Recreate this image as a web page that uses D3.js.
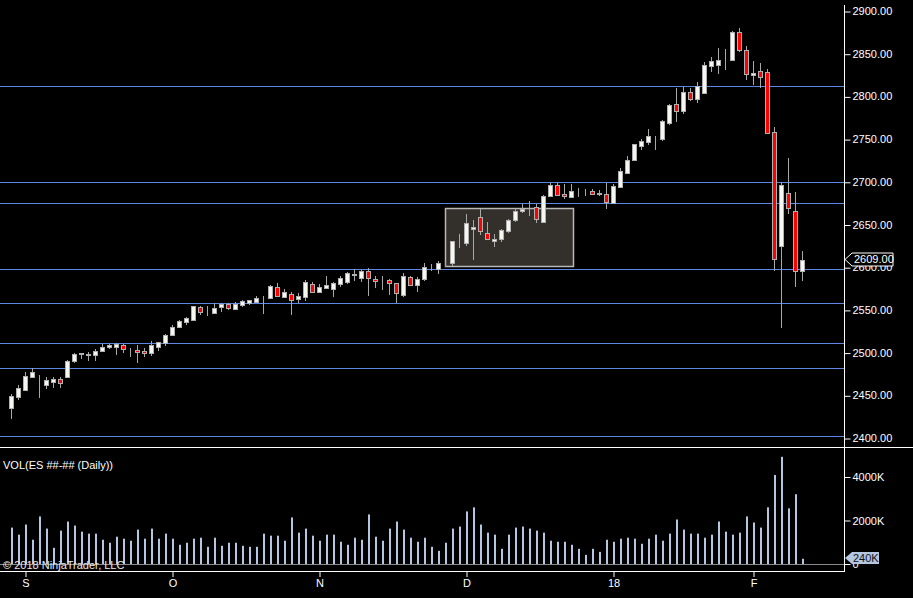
<!DOCTYPE html>
<html>
<head>
<meta charset="utf-8">
<script src="https://cdn.jsdelivr.net/npm/d3@7"></script>
<style>
  body { margin: 0; background: #000; }
  svg { display: block; font-family: "Liberation Sans", Arial, sans-serif; font-size: 11px; }
  .axis text { fill: #fff; font-size: 11px; }
  .axis line { stroke: #fff; }
  .axis path { display: none; }
</style>
</head>
<body>
<div id="chart"></div>
<script>
// daily bars, ES futures, late Aug 2017 - early Feb 2018
const opens = [2435.5,2448.5,2456.5,2471.75,2462.5,2462.5,2466,2469.5,2471.5,2490.5,
  2499,2498,2497.5,2502.25,2506.25,2507,2509,2504.75,2503,2502,
  2499,2507,2511.5,2521,2530.5,2536.25,2538.5,2553.5,2547.25,2546.75,
  2553,2556.5,2551.5,2556,2558.5,2559.5,2564.25,2564,2576.75,2565.5,
  2568.25,2563.25,2565.5,2580,2571,2576,2575,2580.75,2583,2591.5,
  2587.75,2595.5,2586.25,2585.5,2585,2581,2567.75,2588,2579.5,2585.75,
  2599.5,2597.5,2605.25,2605.25,2629.25,2628.75,2644.25,2658.5,2639.5,2630.25,
  2633.5,2642.75,2655.5,2666.25,2670.25,2670,2653.25,2683.75,2695.75,2685.25,
  2682.5,2687.75,2687.75,2688.75,2686.5,2685.25,2675.5,2694.25,2710,2725.5,
  2742.25,2747,2751.75,2750.5,2769.25,2791,2783.25,2805.25,2797.5,2804.5,
  2836,2837.25,2842,2842.5,2875,2854,2824.75,2829.5,2828.25,2758,
  2625.25,2686.5,2665.5,2595.25];
const highs = [2451,2462,2477.25,2481.5,2473.75,2471,2471.75,2471,2491.75,2499,
  2499.5,2500.75,2503.75,2510,2510,2510.75,2510,2505,2509,2505,
  2513.5,2512.5,2521.75,2532.25,2538.25,2542,2555,2555,2554.5,2557.75,
  2557.75,2557.75,2559,2561.5,2561.5,2566.25,2566.25,2578.75,2581,2574,
  2571,2569.5,2585,2582.25,2580.25,2589.75,2582.75,2589.25,2594.5,2597.5,
  2596.75,2598.75,2589.25,2589.25,2586.5,2581.5,2592.75,2589.75,2588,2604.5,
  2603.75,2607.25,2606,2631,2639,2662.25,2655.25,2668.5,2652.5,2638.5,
  2644.75,2656.5,2668,2674.5,2677.5,2673.5,2684.5,2699,2699,2697.5,
  2697.5,2692.25,2691.25,2692,2690.5,2699,2697.5,2715.75,2730.25,2744.5,
  2750,2761.75,2753.5,2772.5,2791,2809.75,2811.5,2809.5,2817,2840.25,
  2846,2856.75,2855.5,2877,2879.75,2858.5,2841.5,2839,2831.75,2763.75,
  2700.25,2728.25,2687.75,2619];
const lows = [2422,2444.5,2456,2471,2447.25,2457.75,2459,2459,2470.5,2488.25,
  2493,2490.5,2490.5,2501,2504.5,2497.25,2500,2495.25,2488.25,2495.25,
  2496.5,2502.25,2508,2519.75,2529.25,2532.25,2538,2544,2543,2546.5,
  2548,2550,2550,2553.75,2556,2559.25,2545.25,2563.25,2565.5,2565.25,
  2544,2557.75,2560.75,2569.5,2570.25,2574.5,2565.5,2577.25,2580,2583.75,
  2583,2566.5,2575.25,2573.25,2567.5,2558.5,2565.5,2578,2571.25,2583.5,
  2596,2592.5,2599.75,2601.5,2623,2624.75,2608.5,2637.75,2631.75,2624,
  2630,2640.5,2653.25,2663.75,2660,2652,2652.5,2683.5,2683.5,2680.25,
  2681.5,2682.5,2683.5,2684.5,2683.5,2668,2674.75,2693,2709,2724.75,
  2737.25,2743,2737.25,2748.25,2766.5,2770.5,2779.5,2795,2792.75,2802.75,
  2829,2826.25,2831,2841.75,2852,2819.25,2813.5,2809.75,2756,2596,
  2529.25,2662,2577.25,2584.25];
const closes = [2449,2458.5,2472.5,2477,2462,2468,2469,2464.75,2490.25,2498,
  2498.75,2497.5,2501.5,2506.25,2509,2510,2504.5,2504.5,2500.25,2499,
  2508.5,2512,2520.25,2529.5,2536.5,2540,2554.25,2548,2547,2551.75,
  2557,2552.5,2557.25,2560,2561.25,2564,2564,2578,2566.5,2570.5,
  2562,2566.25,2582.75,2571.25,2576.75,2578.75,2581,2587.25,2592.75,2591.25,
  2595.25,2587.75,2583.5,2585.25,2582,2569.5,2589.25,2579.5,2586.25,2599.75,
  2599.25,2604.5,2605.5,2630.25,2629,2651.5,2647.5,2642,2632.5,2632.5,
  2643.25,2655,2665.5,2668.5,2670,2656.75,2683,2696.25,2685,2683,
  2688.75,2687.5,2687.5,2686,2686.25,2676.25,2695,2712.5,2725.5,2744.25,
  2747.75,2753.5,2751.5,2771.25,2790,2783.25,2805.25,2797.5,2811.75,2836.5,
  2841.5,2842.5,2841.75,2875,2854.75,2825.75,2827.5,2823,2757.5,2609.25,
  2696.25,2669,2595.25,2609];
// volume in thousands of contracts
const volumes = [1674,1349,1814,1116,2186,1628,744,1535,1953,1767,
  1488,1395,1395,1116,977,1256,1163,1070,1581,1163,
  1628,1163,1395,1163,884,977,1163,1209,791,1209,
  837,977,977,837,791,791,1395,1302,1302,1070,
  2140,1442,1628,1302,1070,1349,1349,1023,884,1209,
  1116,2279,1256,1070,1628,1953,1581,1209,1023,1209,
  791,605,977,1628,1721,2418,2604,1814,1442,1349,
  698,1349,1674,1721,1628,1535,1442,1070,1023,1023,
  884,698,419,698,558,1116,1023,1163,1209,1163,
  930,1163,1349,1070,1395,2046,1581,1395,1395,1209,
  1349,1953,1488,1349,1442,2186,1907,1674,2604,4092,
  4929,2558,3209,240];

const monthIdx = [2, 23, 44, 65, 86, 106];
const monthLabels = ['S', 'O', 'N', 'D', '18', 'F'];
const priceTicks = [2400, 2450, 2500, 2550, 2600, 2650, 2700, 2750, 2800, 2850, 2900];
const volTicks = [0, 2000, 4000];
// horizontal lines drawn on the chart
const levels = [2812, 2700, 2675, 2598, 2558, 2511, 2482, 2402];
// rectangle drawing: bar index range and price range
const boxIdx = [62, 80.3];
const boxPrice = [2601.5, 2669.25];

const width = 913;
const height = 598;
const axisX = 844;

const svg = d3.select('#chart')
  .append('svg')
    .attr('width', width)
    .attr('height', height)
    .style('background', '#000');

const x = d3.scaleLinear().domain([0, 113]).range([11, 802]);
const y = d3.scaleLinear().domain([2400, 2900]).range([438, 11]);
const vy = d3.scaleLinear().domain([0, 4000]).range([564, 477]);

// drawing rectangle
svg.append('rect')
  .attr('x', Math.round(x(boxIdx[0])) + 0.5)
  .attr('y', Math.round(y(boxPrice[1])) + 0.5)
  .attr('width', Math.round(x(boxIdx[1]) - x(boxIdx[0])))
  .attr('height', Math.round(y(boxPrice[0]) - y(boxPrice[1])))
  .attr('fill', '#332f2b')
  .attr('stroke', '#b8b8b8')
  .attr('stroke-width', 1.5);

// horizontal lines
svg.selectAll('.level')
  .data(levels)
  .join('line')
    .attr('x1', 0)
    .attr('x2', axisX)
    .attr('y1', d => Math.round(y(d)) + 0.5)
    .attr('y2', d => Math.round(y(d)) + 0.5)
    .attr('stroke', '#5b87e6')
    .attr('stroke-width', 1.2);

const bars = d3.range(opens.length).map(i => ({
  i, o: opens[i], h: highs[i], l: lows[i], c: closes[i], v: volumes[i]
}));

// wicks
svg.selectAll('.wick')
  .data(bars)
  .join('line')
    .attr('x1', d => Math.round(x(d.i)) + 0.5)
    .attr('x2', d => Math.round(x(d.i)) + 0.5)
    .attr('y1', d => Math.round(y(d.h)))
    .attr('y2', d => Math.round(y(d.l)))
    .attr('stroke', '#a8a8a8')
    .attr('stroke-width', 1);

// bodies
svg.selectAll('.body')
  .data(bars)
  .join('rect')
    .attr('x', d => Math.round(x(d.i)) - 1.5)
    .attr('y', d => Math.round(y(Math.max(d.o, d.c))) + 0.5)
    .attr('width', 4)
    .attr('height', d => Math.max(0, Math.round(y(Math.min(d.o, d.c))) - Math.round(y(Math.max(d.o, d.c)))))
    .attr('fill', d => d.c >= d.o ? '#f7f7f2' : '#ff0000')
    .attr('stroke', '#b0b0b0')
    .attr('stroke-width', 1);

// price axis
const priceAxis = svg.append('g')
  .attr('class', 'axis')
  .attr('transform', `translate(${axisX + 0.5},0)`)
  .call(d3.axisRight(y).tickValues(priceTicks).tickFormat(d3.format('.2f')).tickSize(6).tickPadding(2));
priceAxis.selectAll('.tick line').attr('transform', 'translate(0,0.5)');

// pane borders
svg.append('line')
  .attr('x1', axisX + 0.5).attr('x2', axisX + 0.5)
  .attr('y1', 5).attr('y2', 572)
  .attr('stroke', '#fff');
svg.append('line')
  .attr('x1', 0).attr('x2', width)
  .attr('y1', 447.5).attr('y2', 447.5)
  .attr('stroke', '#fff');
svg.append('line')
  .attr('x1', 0).attr('x2', axisX)
  .attr('y1', 571.5).attr('y2', 571.5)
  .attr('stroke', '#fff');

// last price flag
const lastClose = closes[closes.length - 1];
const ly = y(lastClose);
svg.append('path')
  .attr('d', `M${axisX + 1},${ly} L${axisX + 8},${ly - 6.5} L${axisX + 49},${ly - 6.5} L${axisX + 49},${ly + 6.5} L${axisX + 8},${ly + 6.5} Z`)
  .attr('fill', '#000')
  .attr('stroke', '#fff');
svg.append('text')
  .attr('x', axisX + 10)
  .attr('y', ly)
  .attr('dy', '0.35em')
  .attr('fill', '#fff')
  .text(d3.format('.2f')(lastClose));

// volume pane
svg.append('line')
  .attr('x1', 0).attr('x2', axisX)
  .attr('y1', vy(0) + 0.5).attr('y2', vy(0) + 0.5)
  .attr('stroke', '#8a8a8a');

svg.selectAll('.vol')
  .data(bars)
  .join('rect')
    .attr('x', d => Math.round(x(d.i)))
    .attr('y', d => vy(d.v))
    .attr('width', 2)
    .attr('height', d => vy(0) - vy(d.v))
    .attr('fill', '#b4c6e0');

svg.append('g')
  .attr('class', 'axis')
  .attr('transform', `translate(${axisX + 0.5},0)`)
  .call(d3.axisRight(vy).tickValues(volTicks).tickFormat(d => d === 0 ? '0' : d + 'K').tickSize(6).tickPadding(2));

const lastVol = volumes[volumes.length - 1];
const vly = 558;
svg.append('path')
  .attr('d', `M${axisX + 1},${vly} L${axisX + 8},${vly - 6} L${axisX + 35},${vly - 6} L${axisX + 35},${vly + 6} L${axisX + 8},${vly + 6} Z`)
  .attr('fill', '#b4c6e0');
svg.append('text')
  .attr('x', axisX + 9)
  .attr('y', vly)
  .attr('dy', '0.35em')
  .attr('fill', '#111')
  .text(lastVol + 'K');

svg.append('text')
  .attr('x', 3)
  .attr('y', 469)
  .attr('fill', '#fff')
  .text('VOL(ES ##-## (Daily))');

svg.append('text')
  .attr('x', 3)
  .attr('y', 569)
  .attr('fill', '#e8e8e8')
  .text('\u00a9 2018 NinjaTrader, LLC');

// time axis
svg.append('g')
  .attr('class', 'axis')
  .attr('transform', 'translate(0.5,572)')
  .call(d3.axisBottom(x).tickValues(monthIdx).tickFormat((d, i) => monthLabels[i]).tickSize(5).tickPadding(2));
</script>
</body>
</html>
